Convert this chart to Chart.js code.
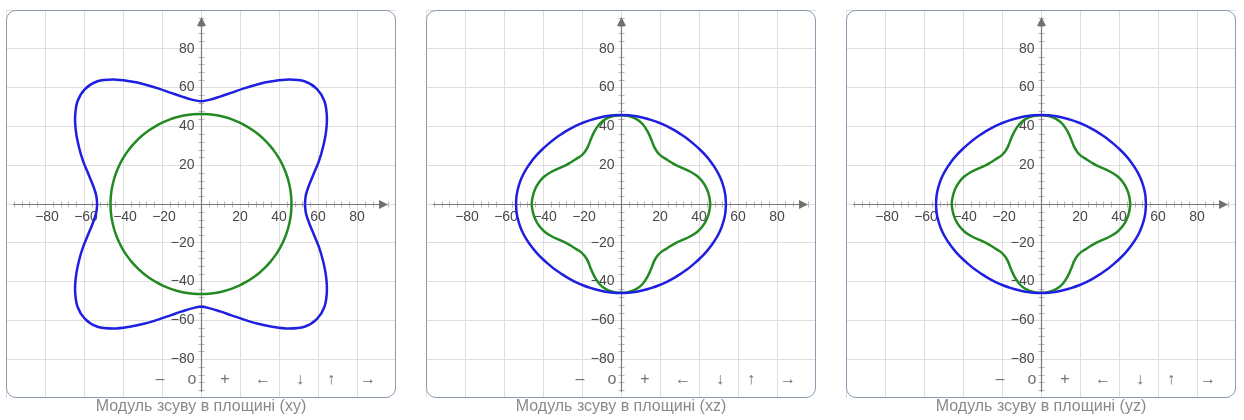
<!DOCTYPE html>
<html lang="uk">
<head>
<meta charset="utf-8">
<title>Модуль зсуву в площині</title>
<script src="https://cdn.jsdelivr.net/npm/chart.js@4.4.1/dist/chart.umd.min.js"></script>
<style>
  html, body { margin: 0; padding: 0; background: #fff; }
  body {
    width: 1244px; height: 420px; position: relative; overflow: hidden;
    font-family: "Liberation Sans", Arial, sans-serif;
  }
  .panel { position: absolute; top: 10px; width: 390px; height: 388px; }
  .panel canvas { position: absolute; left: 0; top: 0; }
  .frame {
    position: absolute; left: 0; top: 0; right: 0; bottom: 0;
    border: 1.5px solid #8a9ab0; border-radius: 10px; pointer-events: none;
  }
  .nav span {
    position: absolute; top: 359px; transform: translateX(-50%);
    font-size: 16px; line-height: 19px; color: #707070;
  }
  .caption {
    position: absolute; top: 397px; width: 390px; text-align: center;
    font-size: 16px; line-height: 18px; color: #8a8a8a;
  }
</style>
</head>
<body>
<script>
// ─── DATA ────────────────────────────────────────────────────────
// Polar radius (same units as the axes) for the
// first quadrant; every curve is mirror-symmetric about both axes.
const ANGLES_DEG = [0, 5, 10, 15, 20, 25, 30, 35, 40, 45, 50, 55, 60, 65, 70, 75, 80, 85, 90];

// (xy) plane
const XY_BLUE  = [53.3, 54.0, 56.3, 59.8, 64.3, 69.0, 74.0, 78.8, 82.6, 84.0, 82.6, 78.3, 73.0, 68.0, 63.3, 59.3, 56.2, 54.0, 53.0];
const XY_GREEN = [46.4, 46.4, 46.4, 46.4, 46.4, 46.4, 46.4, 46.4, 46.4, 46.4, 46.4, 46.4, 46.4, 46.4, 46.4, 46.4, 46.4, 46.4, 46.4];

// (xz) plane
const XZ_BLUE  = [53.8, 53.7, 53.3, 52.7, 51.9, 51.0, 50.1, 49.2, 48.4, 47.8, 47.2, 46.8, 46.5, 46.2, 46.0, 45.9, 45.9, 45.9, 45.9];
const XZ_GREEN = [45.8, 45.4, 44.7, 43.5, 41.7, 39.3, 36.8, 34.7, 33.5, 32.7, 32.2, 32.6, 34.0, 36.7, 39.8, 42.7, 44.6, 45.5, 45.8];

// (yz) plane
const YZ_BLUE  = [53.8, 53.7, 53.3, 52.7, 51.9, 51.0, 50.1, 49.2, 48.4, 47.8, 47.2, 46.8, 46.5, 46.2, 46.0, 45.9, 45.9, 45.9, 45.9];
const YZ_GREEN = [45.8, 45.4, 44.7, 43.5, 41.7, 39.3, 36.8, 34.7, 33.5, 32.7, 32.2, 32.6, 34.0, 36.7, 39.8, 42.7, 44.6, 45.5, 45.8];

const AXIS_TICKS = [-80, -60, -40, -20, 20, 40, 60, 80];
const NAV_LABELS = ['–', 'o', '+', '←', '↓', '↑', '→'];
const CAPTIONS   = ['Модуль зсуву в площині (xy)', 'Модуль зсуву в площині (xz)', 'Модуль зсуву в площині (yz)'];

const BLUE  = '#1f1fe0';
const GREEN = '#238a23';

// ─── HELPERS ─────────────────────────────────────────────────────
// Turn a first-quadrant radius profile into a closed loop of {x, y}
function buildLoop(radii) {
  const pts = [];
  const quads = [[1, 1, false], [-1, 1, true], [-1, -1, false], [1, -1, true]];
  quads.forEach(([sx, sy, rev]) => {
    const idx = ANGLES_DEG.map((_, i) => i);
    if (rev) idx.reverse();
    idx.forEach(i => {
      const a = ANGLES_DEG[i] * Math.PI / 180;
      const p = { x: sx * radii[i] * Math.cos(a), y: sy * radii[i] * Math.sin(a) };
      const last = pts[pts.length - 1];
      if (last && Math.abs(last.x - p.x) < 1e-9 && Math.abs(last.y - p.y) < 1e-9) return;
      pts.push(p);
    });
  });
  return pts;
}

// ─── AXES PLUGIN ─────────────────────────────────────────────────
// Central axes with arrows, minor ticks and labels (board style)
const axesPlugin = {
  id: 'boardAxes',
  beforeDatasetsDraw(chart) {
    const { ctx, chartArea: a, scales: { x, y } } = chart;
    const ox = Math.round(x.getPixelForValue(0)) + 0.5;
    const oy = Math.round(y.getPixelForValue(0)) + 0.5;
    ctx.save();

    // minor ticks every 4 units
    ctx.strokeStyle = '#b8b8b8';
    ctx.lineWidth = 1;
    ctx.beginPath();
    for (let v = -96; v <= 96; v += 4) {
      if (v % 20 === 0) continue;
      const px = Math.round(x.getPixelForValue(v)) + 0.5;
      const py = Math.round(y.getPixelForValue(v)) + 0.5;
      ctx.moveTo(px, oy - 3); ctx.lineTo(px, oy + 3);
      ctx.moveTo(ox - 3, py); ctx.lineTo(ox + 3, py);
    }
    ctx.stroke();

    // axis lines
    const xEnd = a.right - 8, yEnd = a.top + 7;
    ctx.strokeStyle = '#7a7a7a';
    ctx.lineWidth = 1.2;
    ctx.beginPath();
    ctx.moveTo(a.left + 7, oy); ctx.lineTo(xEnd - 4, oy);
    ctx.moveTo(ox, a.bottom - 6); ctx.lineTo(ox, yEnd + 4);
    ctx.stroke();

    // arrow heads
    ctx.fillStyle = '#707070';
    ctx.beginPath();
    ctx.moveTo(xEnd, oy); ctx.lineTo(xEnd - 9, oy - 4.5); ctx.lineTo(xEnd - 9, oy + 4.5);
    ctx.closePath();
    ctx.moveTo(ox, yEnd); ctx.lineTo(ox - 4.5, yEnd + 9); ctx.lineTo(ox + 4.5, yEnd + 9);
    ctx.closePath();
    ctx.fill();

    // tick labels
    ctx.fillStyle = '#4a4a4a';
    ctx.font = '14px "Liberation Sans", Arial, sans-serif';
    ctx.textBaseline = 'middle';
    AXIS_TICKS.forEach(v => {
      const txt = (v < 0 ? '\u2212' : '') + Math.abs(v);
      ctx.textAlign = 'center';
      ctx.fillText(txt, x.getPixelForValue(v) + (v < 0 ? 2 : 0), oy + 13);
      ctx.textAlign = 'right';
      ctx.fillText(txt, ox - 7, y.getPixelForValue(v));
    });
    ctx.restore();
  }
};

// ─── CHART BUILDER ───────────────────────────────────────────────
function makePanel(left, blue, green, caption) {
  const panel = document.createElement('div');
  panel.className = 'panel';
  panel.style.left = left + 'px';
  const canvas = document.createElement('canvas');
  canvas.width = 390;
  canvas.height = 388;
  panel.appendChild(canvas);

  const nav = document.createElement('div');
  nav.className = 'nav';
  const navX = [154, 186, 219, 257, 294, 325, 362];
  NAV_LABELS.forEach((t, i) => {
    const s = document.createElement('span');
    s.textContent = t;
    s.style.left = navX[i] + 'px';
    nav.appendChild(s);
  });
  panel.appendChild(nav);

  const frame = document.createElement('div');
  frame.className = 'frame';
  panel.appendChild(frame);
  document.body.appendChild(panel);

  const cap = document.createElement('div');
  cap.className = 'caption';
  cap.style.left = left + 'px';
  cap.textContent = caption;
  document.body.appendChild(cap);

  const axisOpts = {
    type: 'linear', min: -100, max: 100,
    ticks: { display: false, stepSize: 20 },
    grid: { color: '#dedede', lineWidth: 1, drawTicks: false },
    border: { display: false },
  };

  new Chart(canvas, {
    type: 'scatter',
    data: {
      datasets: [
        { data: buildLoop(blue),  borderColor: BLUE,  borderWidth: 2.5 },
        { data: buildLoop(green), borderColor: GREEN, borderWidth: 2.5 },
      ].map(d => ({ ...d, showLine: true, fill: false, pointRadius: 0, tension: 0.35 })),
    },
    options: {
      responsive: false,
      animation: false,
      devicePixelRatio: 1,
      events: [],
      layout: { padding: 0 },
      plugins: { legend: { display: false }, tooltip: { enabled: false } },
      scales: { x: axisOpts, y: { ...axisOpts } },
    },
    plugins: [axesPlugin],
  });
}

// ─── BOOT ────────────────────────────────────────────────────────
makePanel(6,   XY_BLUE, XY_GREEN, CAPTIONS[0]);
makePanel(426, XZ_BLUE, XZ_GREEN, CAPTIONS[1]);
makePanel(846, YZ_BLUE, YZ_GREEN, CAPTIONS[2]);
</script>
</body>
</html>
